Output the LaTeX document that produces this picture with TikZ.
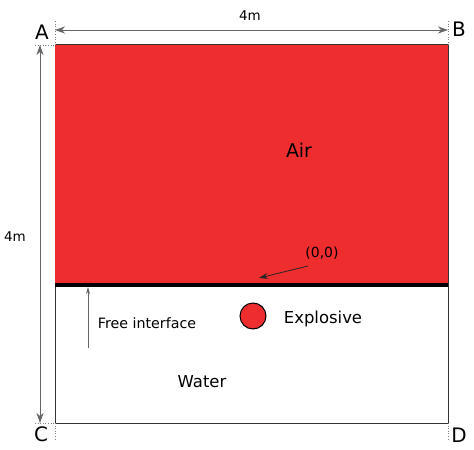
\documentclass[tikz,border=0pt]{standalone}
\usepackage{fontspec}
\setmainfont{DejaVu Sans}
\usetikzlibrary{arrows.meta}
\definecolor{airred}{RGB}{238,45,47}
\tikzset{
  dimline/.style={draw=black!60, line width=0.9pt, {Stealth[length=10pt,width=7pt,inset=3pt]}-{Stealth[length=10pt,width=7pt,inset=3pt]}},
  extline/.style={draw=black!50, dotted, line width=0.6pt},
  lbl/.style={inner sep=0pt, font=\fontsize{#1}{#1}\selectfont},
}
\begin{document}
\begin{tikzpicture}[x=1bp,y=-1bp]
\useasboundingbox (0,0) rectangle (474,450);
\coordinate (A) at (55,45);
\coordinate (B) at (448,45);
\coordinate (C) at (55,423);
\coordinate (D) at (448,423);
\coordinate (ifl) at (55,285);
\coordinate (ifr) at (448,285);
% air region
\fill[airred] (A) rectangle (ifr);
\draw[line width=1pt,black!80] (ifl) -- (C) -- (D) -- (ifr) -- (B) -- (A);
\draw[line width=3.2pt] (ifl) -- (ifr);
% dimension lines
\draw[extline] (55,21) -- (A);
\draw[extline] (448,21) -- (B);
\draw[extline] (35,45) -- (A);
\draw[extline] (35,423) -- (C);
\draw[extline] (C) -- (55,441);
\draw[extline] (D) -- (448,441);
\coordinate (topl) at (55,30);
\coordinate (topr) at (448,30);
\coordinate (lft) at (40,45);
\coordinate (lfb) at (40,423);
\draw[dimline] (topl) -- (topr);
\draw[dimline] (lft) -- (lfb);
\node[lbl=13.5] (wd) at (250,16) {4m};
\node[lbl=13.5] (ht) at (15,237) {4m};
\node[lbl=20] (la) at (42,32) {A};
\node[lbl=20] (lb) at (459,29) {B};
\node[lbl=20] (lc) at (41,434) {C};
\node[lbl=20] (ld) at (459,435) {D};
% texts
\node[lbl=19] (air) at (299,150) {Air};
\node[lbl=16.5] (water) at (202,382) {Water};
\node[circle, fill=airred, draw, line width=1pt, minimum size=26bp, inner sep=0pt] (charge) at (253,316) {};
\node[lbl=16.5] (expl) at (323,319) {Explosive};
\node[lbl=14.3] (free) at (147,323) {Free interface};
\coordinate (freetail) at (88,348);
\coordinate (freehead) at (88,287);
\draw[black!60, line width=0.7pt, -{Stealth[length=7pt,width=4pt]}] (freetail) -- (freehead);
\node[lbl=14] (orig) at (322,253) {(0,0)};
\coordinate (origtail) at (308,266);
\coordinate (orighead) at (259,278);
\draw[black!85, line width=0.8pt, -{Stealth[length=9pt,width=6pt]}] (origtail) -- (orighead);
\end{tikzpicture}
\end{document}
